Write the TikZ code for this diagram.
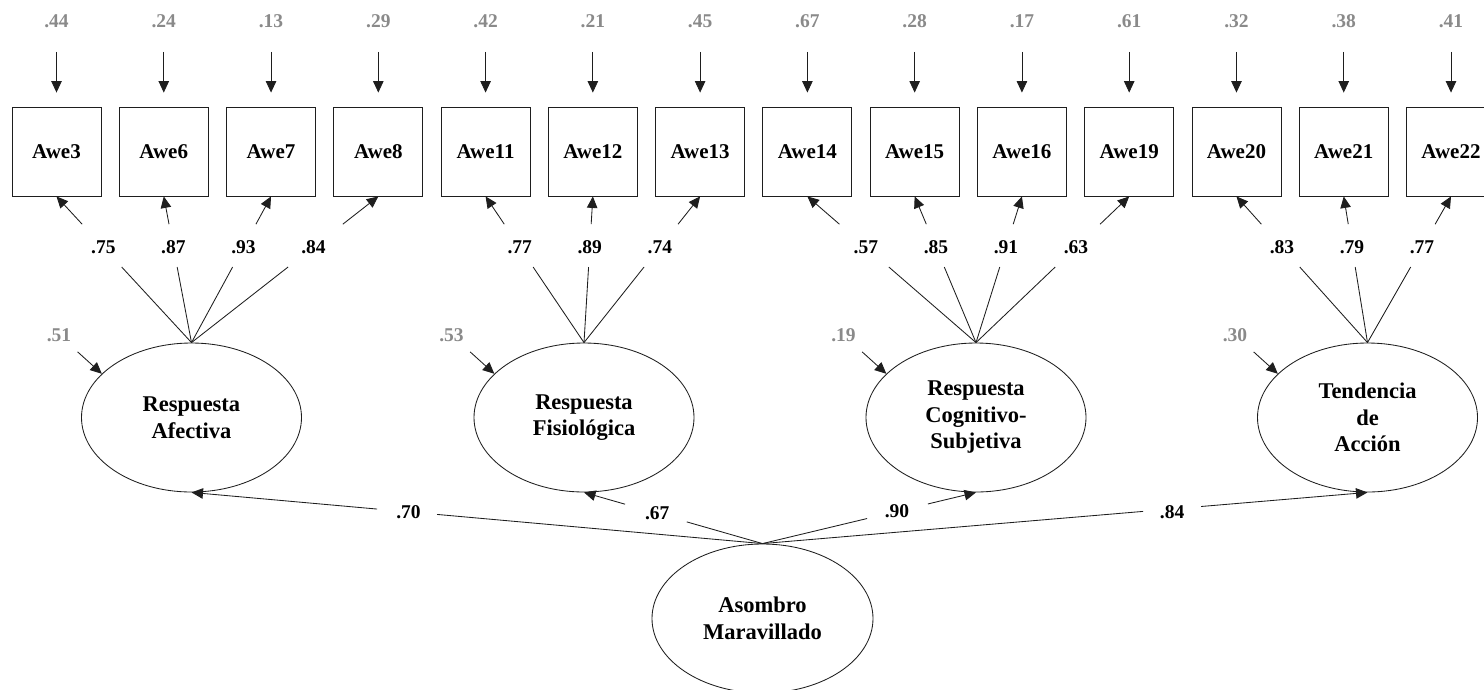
\documentclass[tikz,border=0pt]{standalone}
\usepackage{fontspec}
\setmainfont{Liberation Serif}
\usetikzlibrary{arrows.meta,shapes.geometric,calc}
\definecolor{errgray}{RGB}{138,138,138}
\definecolor{linecol}{RGB}{30,30,30}
\tikzset{
  obs/.style={draw=linecol,line width=0.85pt,rectangle,minimum width=89pt,minimum height=89pt,inner sep=0pt,font=\fontsize{21}{24}\selectfont\bfseries},
  lat/.style={draw=linecol,line width=0.85pt,ellipse,minimum width=220pt,minimum height=149pt,inner sep=0pt,align=center,font=\fontsize{22.5}{26.5}\selectfont\bfseries},
  errlab/.style={inner sep=0pt,text=errgray,font=\fontsize{19.5}{21}\selectfont\bfseries},
  coef/.style={inner sep=0pt,font=\fontsize{19.5}{21}\selectfont\bfseries},
  conn/.style={draw=linecol,line width=0.85pt},
  arr/.style={conn,-{Triangle[width=10.5pt,length=11.5pt]}}
}
\begin{document}
\begin{tikzpicture}[x=1pt,y=-1pt]
\path[use as bounding box] (0,0) rectangle (1484,689);
\clip (0,0) rectangle (1484,689);
% observed indicators with error variances
\foreach \i/\lab/\e in {1/Awe3/.44,2/Awe6/.24,3/Awe7/.13,4/Awe8/.29,5/Awe11/.42,6/Awe12/.21,7/Awe13/.45,8/Awe14/.67,9/Awe15/.28,10/Awe16/.17,11/Awe19/.61,12/Awe20/.32,13/Awe21/.38,14/Awe22/.41}{
  \node[obs] (b\i) at ({56.5+107.27*(\i-1)},151.5) {\lab};
  \node[errlab] (e\i) at ({56.5+107.27*(\i-1)},21) {\e};
  \draw[arr,shorten <=24pt,shorten >=14pt] (e\i) -- (b\i);
}
% latent factors
\node[lat] (lat1) at (191.5,417.5) {Respuesta\\Afectiva};
\node[lat] (lat2) at (584,417.5) {Respuesta\\Fisiológica};
\node[lat] (lat3) at (976,417.5) {Respuesta\\Cognitivo-\\Subjetiva};
\node[lat] (lat4) at (1367.5,417.5) {Tendencia\\de\\Acción};
\node[lat,minimum width=221pt] (asb) at (762.5,618.5) {Asombro\\Maravillado};
% residuals of latent factors
\foreach \l/\v in {1/.51,2/.53,3/.19,4/.30}{
  \node[errlab] (r\l) at ($(lat\l.center)+(-132.5,-82.5)$) {\v};
  \draw[arr,shorten <=15pt] (r\l) -- (lat\l.154);
}
% loadings
\foreach \l/\b/\v in {1/1/.75,1/2/.87,1/3/.93,1/4/.84,2/5/.77,2/6/.89,2/7/.74,3/8/.57,3/9/.85,3/10/.91,3/11/.63,4/12/.83,4/13/.79,4/14/.77}{
  \draw[conn] (lat\l.north) -- ($(lat\l.north)!0.517!(b\b.south)$);
  \draw[arr] ($(lat\l.north)!0.81!(b\b.south)$) -- (b\b.south);
  \node[coef] (ld\b) at ($(lat\l.north)!0.653!(b\b.south)$) {\v};
}
% structural paths
\foreach \l/\v/\ta/\tb/\tl/\dy in {1/.70/0.570/0.675/0.62/0,2/.67/0.424/0.77/0.59/0,3/.90/0.49/0.775/0.63/0,4/.84/0.629/0.725/0.677/3}{
  \draw[conn] (asb.north) -- ($(asb.north)!\ta!(lat\l.south)$);
  \draw[arr] ($(asb.north)!\tb!(lat\l.south)$) -- (lat\l.south);
  \node[coef] (st\l) at ($(asb.north)!\tl!(lat\l.south)+(0,\dy)$) {\v};
}
\end{tikzpicture}
\end{document}
